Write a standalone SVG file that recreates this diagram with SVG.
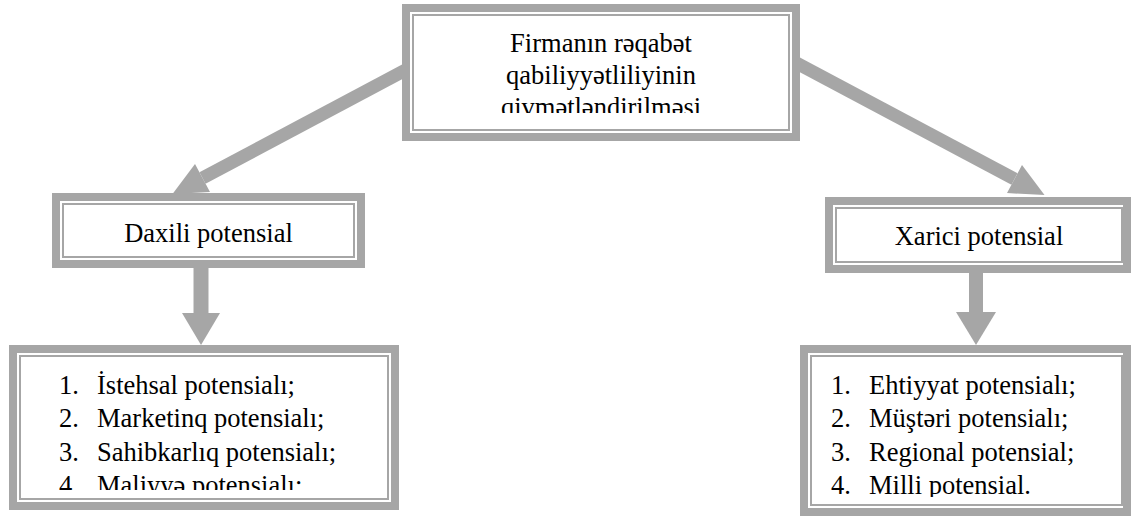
<svg xmlns="http://www.w3.org/2000/svg" width="1131" height="520" viewBox="0 0 1131 520">
  <style>
    .frame{fill:#a6a6a6}
    .gap{fill:#ffffff}
    .line{fill:#ffffff;stroke:#a6a6a6;stroke-width:2}
    .t{font-family:"Liberation Serif","Times New Roman",serif;font-size:26.5px;fill:#000}
    .c{text-anchor:middle}
    .shaft{stroke:#a6a6a6;fill:none}
    .head{fill:#a6a6a6}
  </style>
  <defs>
    <clipPath id="clipTop"><rect x="414" y="16" width="374" height="97"/></clipPath>
    <clipPath id="clipBL"><rect x="21" y="357" width="366" height="133"/></clipPath>
    <clipPath id="clipBR"><rect x="812" y="357" width="319" height="140"/></clipPath>
  </defs>

  <g id="connectors">
    <line class="shaft" stroke-width="13" x1="430" y1="57" x2="202.5" y2="178"/>
    <polygon class="head" points="195,163.9 210,192.1 172.5,193.9"/>
    <line class="shaft" stroke-width="13" x1="787" y1="58" x2="1014.5" y2="179"/>
    <polygon class="head" points="1022,164.9 1007,193.1 1044.5,194.9"/>
    <line class="shaft" stroke-width="15" x1="201" y1="266" x2="201" y2="315"/>
    <polygon class="head" points="182,313 220,313 201,345"/>
    <line class="shaft" stroke-width="14" x1="976" y1="271" x2="976" y2="314"/>
    <polygon class="head" points="956,312 996,312 976,345"/>
  </g>

  <g id="node-top">
    <rect class="frame" x="402" y="4" width="398" height="137"/>
    <rect class="gap" x="410" y="12" width="382" height="121"/>
    <rect class="line" x="413" y="15" width="376" height="115"/>
    <g clip-path="url(#clipTop)">
      <text class="t c" x="601" y="51.5">Firmanın rəqabət</text>
      <text class="t c" x="601" y="83.5">qabiliyyətliliyinin</text>
      <text class="t c" x="601" y="115.5">qivmətləndirilməsi</text>
    </g>
  </g>

  <g id="node-daxili">
    <rect class="frame" x="52" y="193" width="313" height="75"/>
    <rect class="gap" x="60" y="201" width="297" height="59"/>
    <rect class="line" x="63" y="204" width="291" height="53"/>
    <text class="t c" x="208.5" y="242">Daxili potensial</text>
  </g>

  <g id="node-xarici">
    <rect class="frame" x="825" y="197" width="310" height="76"/>
    <rect class="gap" x="833" y="205" width="290" height="60"/>
    <rect class="line" x="836" y="208" width="286" height="54"/>
    <text class="t c" x="979" y="245">Xarici potensial</text>
  </g>

  <g id="node-daxili-list">
    <rect class="frame" x="9" y="345" width="390" height="165"/>
    <rect class="gap" x="17" y="353" width="374" height="149"/>
    <rect class="line" x="20" y="356" width="368" height="143"/>
    <g clip-path="url(#clipBL)">
      <text class="t" x="59" y="394">1.</text><text class="t" x="97" y="394">İstehsal potensialı;</text>
      <text class="t" x="59" y="427.3">2.</text><text class="t" x="97" y="427.3">Marketinq potensialı;</text>
      <text class="t" x="59" y="460.7">3.</text><text class="t" x="97" y="460.7">Sahibkarlıq potensialı;</text>
      <text class="t" x="59" y="494">4.</text><text class="t" x="97" y="494">Maliyyə potensialı;</text>
    </g>
  </g>

  <g id="node-xarici-list">
    <rect class="frame" x="800" y="345" width="335" height="171"/>
    <rect class="gap" x="808" y="353" width="315" height="155"/>
    <rect class="line" x="811" y="356" width="311" height="149"/>
    <g clip-path="url(#clipBR)">
      <text class="t" x="831" y="394">1.</text><text class="t" x="869" y="394">Ehtiyyat potensialı;</text>
      <text class="t" x="831" y="427.3">2.</text><text class="t" x="869" y="427.3">Müştəri potensialı;</text>
      <text class="t" x="831" y="460.7">3.</text><text class="t" x="869" y="460.7">Regional potensial;</text>
      <text class="t" x="831" y="494">4.</text><text class="t" x="869" y="494">Milli potensial.</text>
    </g>
  </g>
</svg>
